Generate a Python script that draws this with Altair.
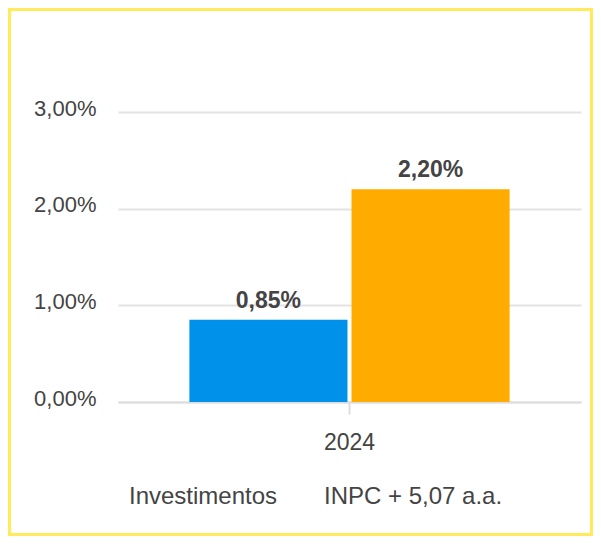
import altair as alt
import pandas as pd

years = ["2024", "2024"]
series = ["Investimentos", "INPC + 5,07 a.a."]
values = [0.85, 2.20]
colors = ["#0091EA", "#FFAB00"]
y_ticks = [0, 1, 2, 3]

df = pd.DataFrame({"year": years, "series": series, "value": values})

W, H = 463, 290
PL, PT, PR, PB = 110, 104, 12, 134
FONT = "Liberation Sans"
TXT = "#444444"

base = alt.Chart(df)

bars = base.mark_bar().encode(
    x=alt.X("year:N", title=None,
            scale=alt.Scale(paddingInner=0, paddingOuter=0.223),
            axis=alt.Axis(labelAngle=0, labelFontSize=23, labelColor=TXT, labelFont=FONT,
                          tickSize=12, tickColor="#dddddd", tickWidth=2,
                          domainColor="#dddddd", domainWidth=2, labelPadding=17, grid=False)),
    xOffset=alt.XOffset("series:N", sort=series,
                        scale=alt.Scale(paddingInner=0.025, paddingOuter=0)),
    y=alt.Y("value:Q", title=None,
            scale=alt.Scale(domain=[0, 3], nice=False),
            axis=alt.Axis(values=y_ticks, labelExpr="replace(format(datum.value, '.2f'), '.', ',') + '%'",
                          labelFontSize=22, labelColor=TXT, labelFont=FONT,
                          ticks=False, domain=False, labelPadding=22, labelOffset=-4,
                          gridColor="#e3e3e3", gridWidth=2)),
    color=alt.Color("series:N", sort=series,
                    scale=alt.Scale(domain=series, range=colors),
                    legend=alt.Legend(title=None, orient="none", direction="horizontal",
                                      legendX=-13, legendY=373, symbolSize=0, symbolOpacity=0,
                                      symbolStrokeWidth=0, labelOffset=0, columnPadding=22,
                                      padding=0, labelFontSize=24, labelColor=TXT, labelFont=FONT,
                                      labelLimit=600)),
)

labels = base.transform_calculate(
    lbl="replace(format(datum.value, '.2f'), '.', ',') + '%'"
).mark_text(baseline="alphabetic", dy=-12, fontSize=23, fontWeight="bold",
            color=TXT, font=FONT).encode(
    x=alt.X("year:N"),
    xOffset=alt.XOffset("series:N", sort=series),
    y=alt.Y("value:Q"),
    text="lbl:N",
)

border = alt.Chart(pd.DataFrame({"b": [1]})).mark_rect(
    fill=None, stroke="#FFEB5A", strokeWidth=3
).encode(
    x=alt.value(-PL + 1.5), x2=alt.value(W + PR - 1.5),
    y=alt.value(-PT + 1.5), y2=alt.value(H + PB - 1.5),
)

chart = alt.layer(bars, labels, border).properties(
    width=W, height=H,
    autosize=alt.AutoSizeParams(type="none"),
    padding={"left": PL, "top": PT, "right": PR, "bottom": PB},
).configure_view(stroke=None)

chart.save("out.html", embed_options={"renderer": "svg", "actions": False})
